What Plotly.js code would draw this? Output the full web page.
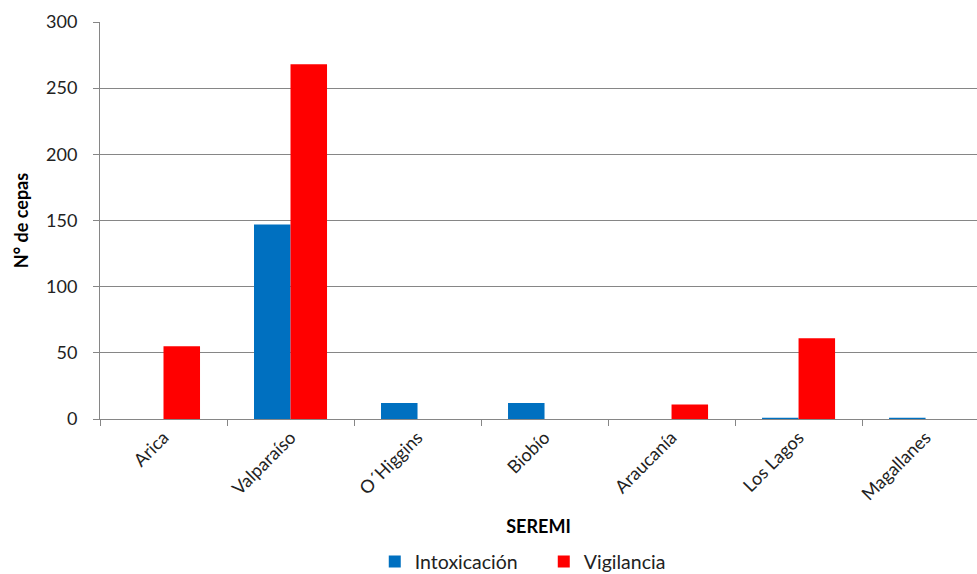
<!DOCTYPE html>
<html>
<head>
<meta charset="utf-8">
<script src="https://cdn.plot.ly/plotly-3.0.1.min.js"></script>
<style>html,body{margin:0;padding:0;background:#fff;}#chart{width:977px;height:574px;}</style>
</head>
<body>
<div id="chart"></div>
<script>
const categories = ["Arica", "Valparaíso", "O´Higgins", "Biobío", "Araucanía", "Los Lagos", "Magallanes"];
const intoxicacion = [0, 147, 12, 12, 0, 1, 1];
const vigilancia = [55, 268, 0, 0, 11, 61, 0];
const yTicks = [0, 50, 100, 150, 200, 250, 300];

const FONT = "Lato, 'Open Sans', sans-serif";

const traces = [
  {type: "bar", name: "Intoxicación", x: categories, y: intoxicacion,
   marker: {color: "#0070C0"}},
  {type: "bar", name: "Vigilancia", x: categories, y: vigilancia,
   marker: {color: "#FF0000"}}
];

const layout = {
  width: 977, height: 574,
  margin: {l: 100, r: 0, t: 22, b: 155, autoexpand: false},
  paper_bgcolor: "#fff", plot_bgcolor: "#fff",
  barmode: "group", bargap: 0.425, bargroupgap: 0,
  font: {family: FONT, color: "#222", size: 16},
  showlegend: true,
  legend: {orientation: "h", x: 0.3133, xanchor: "left", y: -0.36, yanchor: "middle",
           entrywidth: 124, entrywidthmode: "pixels",
           font: {family: FONT, size: 19.5, color: "#222"}, itemwidth: 30, traceorder: "normal"},
  xaxis: {
    type: "category", range: [-0.5, 6.405], automargin: false,
    showgrid: false, showline: true, linecolor: "#868686", linewidth: 1,
    ticks: "outside", tickson: "boundaries", ticklen: 6, tickcolor: "#868686",
    tickangle: -45, tickfont: {family: FONT, size: 18, color: "#222"},
    title: {text: "<b>SEREMI</b>", font: {family: FONT, size: 18, color: "#000"}, standoff: 17},
    fixedrange: true
  },
  yaxis: {
    range: [0, 300], tickvals: yTicks, ticktext: yTicks.map(String), automargin: false,
    showgrid: true, gridcolor: "#868686", gridwidth: 1,
    showline: true, linecolor: "#868686", linewidth: 1,
    ticks: "outside", ticklen: 6, tickcolor: "#868686",
    ticklabelstandoff: 12,
    tickfont: {family: FONT, size: 18, color: "#222"},
    zeroline: false,
    title: {text: "<b>N° de cepas</b>", font: {family: FONT, size: 18, color: "#000"}, standoff: 12},
    fixedrange: true
  }
};

Plotly.newPlot("chart", traces, layout, {displayModeBar: false, staticPlot: true});
</script>
</body>
</html>
